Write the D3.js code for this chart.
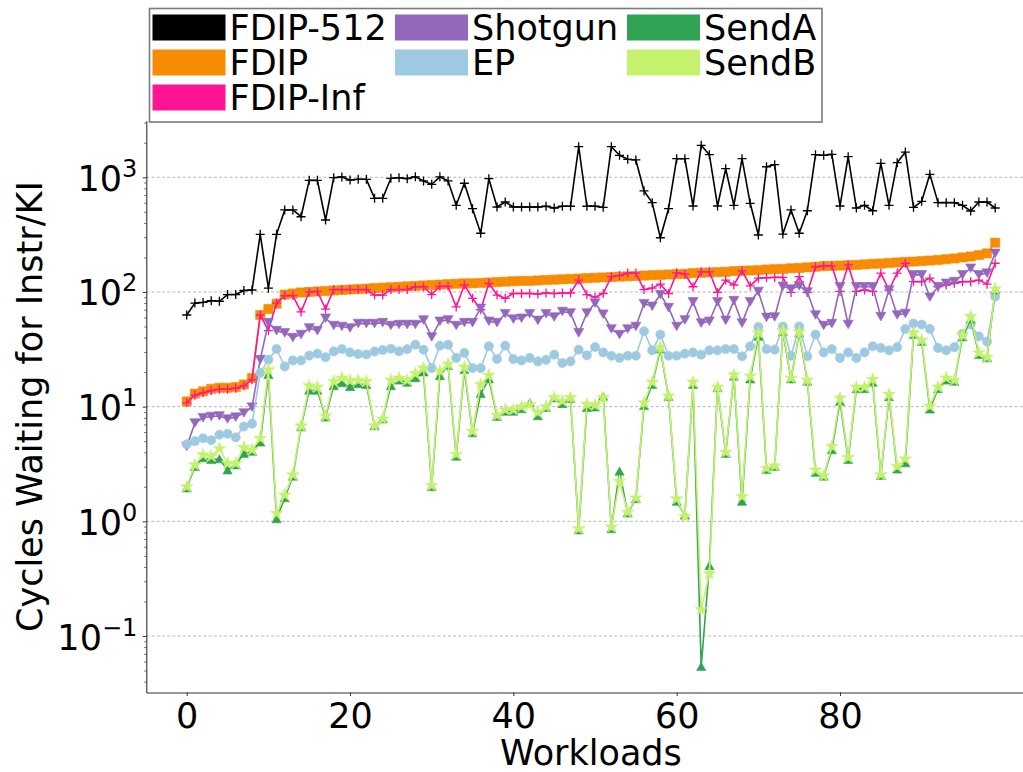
<!DOCTYPE html>
<html><head><meta charset="utf-8">
<script src="https://cdn.jsdelivr.net/npm/d3@7"></script>
<style>
body{margin:0;background:#fff}
svg{display:block}
text{font-family:"DejaVu Sans",sans-serif;fill:#000}
</style>
</head><body><svg id="c" width="1023" height="772"></svg>
<script>
// ---------- data ----------
const workloads = d3.range(100);
const fdip512 = [
 63, 80, 81, 84, 83, 95, 95, 103, 104, 318,
 108, 318, 519, 519, 453, 940, 940, 424, 992, 1008,
 946, 960, 960, 656, 656, 980, 992, 973, 1010, 929,
 869, 1010, 929, 570, 887, 532, 325, 973, 551, 609,
 551, 551, 551, 551, 559, 540, 559, 559, 1849, 559,
 560, 547, 1849, 1555, 1435, 1416, 760, 601, 297, 532,
 1453, 1453, 562, 1900, 1574, 562, 1188, 570, 1453, 593,
 314, 1236, 1288, 320, 519, 325, 511, 1574, 1555, 1585,
 562, 1512, 540, 570, 511, 1324, 570, 1341, 1660, 547,
 617, 1062, 601, 601, 601, 570, 508, 609, 609, 540];
const fdip = [
 11.1, 13.0, 13.6, 14.3, 14.6, 14.6, 14.8, 15.6, 17.8, 63,
 71, 79, 95, 97, 99, 100, 101, 102, 103, 104,
 105, 106, 107, 108, 109, 110, 111, 112, 113, 114,
 115, 116, 117, 118, 119, 119, 120, 121, 122, 123,
 124, 125, 125, 126, 127, 128, 129, 130, 131, 132,
 133, 134, 135, 136, 137, 138, 139, 140, 141, 142,
 143, 144, 146, 147, 148, 149, 150, 152, 153, 154,
 155, 157, 158, 159, 161, 162, 164, 166, 168, 169,
 170, 171, 172, 174, 176, 177, 179, 181, 183, 184,
 186, 188, 190, 193, 196, 200, 204, 210, 217, 269];
const fdipInf = [
 10.8, 12.6, 13.2, 13.8, 14.2, 14.2, 14.5, 15.2, 17.2, 63,
 46, 80, 93, 93, 67, 100, 101, 71, 105, 105,
 105, 105, 105, 94, 94, 105, 105, 105, 111, 111,
 95, 112, 112, 74, 115, 88, 70, 119, 94, 88,
 97, 97, 97, 96, 98, 97, 98, 98, 127, 95,
 90, 97, 136, 139, 146, 146, 105, 108, 117, 97,
 147, 143, 111, 150, 150, 99, 127, 115, 153, 113,
 132, 133, 134, 134, 99, 136, 99, 166, 169, 169,
 101, 172, 101, 104, 101, 146, 104, 146, 178, 123,
 123, 132, 111, 115, 119, 123, 123, 127, 117, 178];
const shotgun = [
 4.5, 7.2, 8.0, 8.2, 8.3, 7.8, 8.1, 8.8, 9.9, 25.7,
 54, 46, 44, 40, 42.5, 48.5, 46, 59, 51, 50,
 48.5, 53, 53, 53, 54, 51, 52, 52, 52, 57,
 40.5, 55.5, 57, 51, 54, 54, 72, 55.5, 54, 64.6,
 58, 59, 64.6, 56.5, 64.6, 60.5, 67.6, 65.6, 44, 65.6,
 80, 64, 47.5, 42.5, 47.5, 50, 79, 75, 95, 73,
 50, 57, 82, 53.5, 55.5, 82, 56.5, 84, 53.5, 82,
 101, 60, 60.5, 112, 106, 113, 100, 63, 51, 53,
 111, 52, 111, 111, 111, 61, 104, 63, 65, 141,
 141, 90, 111, 119, 123, 141, 161, 141, 146, 217];
const ep = [
 4.7, 5.0, 5.3, 5.1, 5.7, 5.8, 5.4, 6.7, 7.1, 19.7,
 25.7, 31.8, 22.4, 25.3, 25.3, 27.9, 29, 27, 30.3, 31.8,
 29.7, 28.8, 28.5, 30.3, 31.2, 32, 30.4, 31.7, 34.7, 31.4,
 21.7, 34, 34.7, 26.6, 29.4, 21.7, 21.7, 33.6, 26, 34,
 26, 25.3, 26.6, 24.8, 25.6, 28.4, 24, 24.8, 31.4, 28,
 33.1, 29.7, 27.8, 26.6, 27.8, 27.8, 45.4, 31, 42.5, 27.8,
 27.8, 29, 29.7, 28.4, 31, 31, 31.8, 31.8, 27.5, 33.6,
 49.5, 31.8, 31.4, 50, 27.8, 50, 27.5, 42.5, 29.7, 31.8,
 26.6, 29.7, 26.6, 29.7, 33.6, 32.5, 31, 33, 47.6, 53,
 52, 47.6, 32.5, 31, 33, 43.3, 52, 41, 37, 91];
const sendA = [
 1.95, 3.0, 3.57, 3.45, 3.5, 2.8, 3.1, 3.9, 4.07, 4.9,
 19, 1.05, 1.6, 2.47, 6.65, 13.9, 13.9, 8.1, 15.2, 16.1,
 14.9, 15.8, 15.6, 6.8, 7.8, 15.2, 17, 16.3, 17.8, 20,
 2.0, 18.6, 22.8, 3.69, 21, 5.9, 13, 17.4, 8.2, 9.1,
 9.1, 9.55, 10.8, 8.3, 9.8, 11.9, 10.6, 11.7, 0.84, 9.8,
 9.9, 12.3, 0.86, 2.73, 1.18, 1.57, 10.2, 15.6, 31.8, 12.2,
 1.49, 1.13, 15.6, 0.054, 0.41, 14.6, 3.9, 18.4, 1.49, 17.4,
 41, 2.82, 3.0, 45, 17.4, 44, 16.6, 2.67, 2.47, 4.2,
 11.1, 3.45, 14.3, 14.3, 16.3, 2.5, 12.2, 2.85, 3.23, 42.5,
 37, 9.5, 14.3, 17, 16.6, 40.5, 58, 28.4, 26.6, 104];
const sendB = [
 2.0, 3.1, 3.8, 3.7, 4.3, 3.2, 3.2, 4.4, 4.2, 5.3,
 21, 1.17, 1.7, 2.55, 6.8, 15.2, 14.8, 8.3, 16.6, 17.8,
 16.9, 17, 16.6, 6.8, 7.8, 17, 17.8, 17, 19.4, 21.7,
 2.05, 20.5, 23.5, 3.85, 22.2, 6.1, 15.6, 18.8, 8.4, 9.4,
 9.4, 10, 10.4, 8.9, 10, 12, 11.2, 12, 0.86, 10.5,
 10.3, 12, 0.89, 2.23, 1.2, 1.6, 10.8, 16.4, 33, 12.4,
 1.57, 1.1, 16.4, 0.17, 0.35, 14.8, 4.0, 19, 1.65, 18.5,
 44, 2.9, 3.05, 46, 17.8, 45, 17, 2.8, 2.5, 4.5,
 11.9, 3.6, 14.8, 14.8, 17.3, 2.55, 12.8, 3.0, 3.5, 44,
 38, 10.1, 14.8, 17.8, 17, 42, 61, 29.5, 27, 106];

const seriesNames = ["FDIP-512", "FDIP", "FDIP-Inf", "Shotgun", "EP", "SendA", "SendB"];
const seriesValues = [fdip512, fdip, fdipInf, shotgun, ep, sendA, sendB];
const seriesColors = ["#000000", "#f78c04", "#ff1493", "#9467bd", "#9ecae1", "#31a354", "#c5f26d"];
const seriesMarkers = ["plus", "square", "plus", "triDown", "circle", "triUp", "star"];
const xTickValues = [0, 20, 40, 60, 80];
const yTickExponents = [-1, 0, 1, 2, 3];
const xLabel = "Workloads";
const yLabel = "Cycles Waiting for Instr/KI";

// ---------- layout ----------
const svg = d3.select("#c");
const FS = 35;
const x = d3.scaleLinear().domain([-4.95, 103.95]).range([146.3, 1035.6]);
const y = d3.scaleLog().domain([Math.pow(10, -1.4926), Math.pow(10, 3.4926)]).range([692.5, 120.8]);
const plotLeft = 146.3, plotBottom = 692.5, plotTop = 120.8, plotRight = 1023;

// grid
const grid = svg.append("g");
yTickExponents.forEach(e => {
  grid.append("line")
    .attr("x1", plotLeft).attr("x2", plotRight)
    .attr("y1", y(Math.pow(10, e))).attr("y2", y(Math.pow(10, e)))
    .attr("stroke", "#b0b0b0").attr("stroke-width", 0.9)
    .attr("stroke-dasharray", "3,2.2");
});

// axes
const xAxis = d3.axisBottom(x).tickValues(xTickValues).tickSize(3.5).tickSizeOuter(0).tickPadding(7).tickFormat(d3.format("d"));
const gx = svg.append("g").attr("transform", `translate(0,${plotBottom})`).call(xAxis);
gx.selectAll("text").attr("font-size", FS).attr("font-family", "DejaVu Sans").attr("fill", "#000");
gx.select(".domain").attr("stroke", "#333").attr("stroke-width", 1.1);
gx.selectAll(".tick line").attr("stroke", "#333").attr("stroke-width", 1);

const majorVals = yTickExponents.map(e => Math.pow(10, e));
const minorVals = [];
for (let e = -2; e <= 3; e++) for (let m = 2; m <= 9; m++) {
  const v = m * Math.pow(10, e);
  if (v >= y.domain()[0] && v <= y.domain()[1]) minorVals.push(v);
}
const gyMinor = svg.append("g").attr("transform", `translate(${plotLeft},0)`)
  .call(d3.axisLeft(y).tickValues(minorVals).tickSize(2).tickSizeOuter(0).tickFormat(""));
gyMinor.select(".domain").remove();
gyMinor.selectAll(".tick line").attr("stroke", "#333").attr("stroke-width", 0.8);
const gy = svg.append("g").attr("transform", `translate(${plotLeft},0)`)
  .call(d3.axisLeft(y).tickValues(majorVals).tickSize(3.5).tickSizeOuter(0).tickFormat(""));
gy.select(".domain").attr("stroke", "#333").attr("stroke-width", 1.1);
gy.selectAll(".tick line").attr("stroke", "#333").attr("stroke-width", 1);
gy.selectAll(".tick").each(function(d) {
  const e = Math.round(Math.log10(d));
  const t = d3.select(this).append("text")
    .attr("x", -9).attr("y", 13)
    .attr("text-anchor", "end").attr("font-size", FS).attr("fill", "#000");
  t.append("tspan").text("10");
  t.append("tspan").attr("dy", -14).attr("font-size", 24).text(e < 0 ? "\u2212" + (-e) : String(e));
});

// axis labels
svg.append("text").attr("x", (plotLeft + 1035.6) / 2).attr("y", 765)
  .attr("text-anchor", "middle").attr("font-size", FS).text(xLabel);
svg.append("text").attr("transform", `translate(42,${(plotTop + plotBottom) / 2}) rotate(-90)`)
  .attr("text-anchor", "middle").attr("font-size", FS).text(yLabel);

// markers
function markerPath(kind) {
  switch (kind) {
    case "plus": return "M-4.5,0H4.5M0,-4.5V4.5";
    case "square": return d3.symbol(d3.symbolSquare, 84)();
    case "triDown": return "M-5,-4.3L5,-4.3L0,4.3Z";
    case "triUp": return "M-4.6,3.9L4.6,3.9L0,-4.3Z";
    case "circle": return d3.symbol(d3.symbolCircle, 66)();
    case "star": return d3.symbol(d3.symbolStar, 48)();
  }
}

const line = d3.line().x((d, i) => x(workloads[i])).y(d => y(d));
const plot = svg.append("g");
seriesValues.forEach((vals, si) => {
  const col = seriesColors[si];
  const g = plot.append("g");
  g.append("path").datum(vals).attr("d", line)
    .attr("fill", "none").attr("stroke", col).attr("stroke-width", 1.6).attr("stroke-linejoin", "round");
  const mk = seriesMarkers[si];
  const p = markerPath(mk);
  g.selectAll("path.m").data(vals).enter().append("path").attr("class", "m")
    .attr("d", p)
    .attr("transform", (d, i) => `translate(${x(workloads[i])},${y(d)})`)
    .attr("fill", mk === "plus" ? "none" : col)
    .attr("stroke", col)
    .attr("stroke-width", mk === "plus" ? 1.3 : 0.6);
});

// legend
const lg = svg.append("g");
lg.append("rect").attr("x", 149.5).attr("y", 8.5).attr("width", 672.5).attr("height", 113.5)
  .attr("fill", "#fff").attr("stroke", "#7a7a7a").attr("stroke-width", 1.6);
const colX = [152.5, 395, 627];
const rowY = [14.5, 49.5, 84.5];
const legendPos = [[0,0],[0,1],[0,2],[1,0],[1,1],[2,0],[2,1]];
seriesNames.forEach((name, i) => {
  const [c, r] = legendPos[i];
  lg.append("rect").attr("x", colX[c]).attr("y", rowY[r]).attr("width", 73).attr("height", 26)
    .attr("fill", seriesColors[i]);
  lg.append("text").attr("x", colX[c] + 77).attr("y", rowY[r] + 25.5)
    .attr("font-size", FS).text(name);
});
</script>
</body></html>
